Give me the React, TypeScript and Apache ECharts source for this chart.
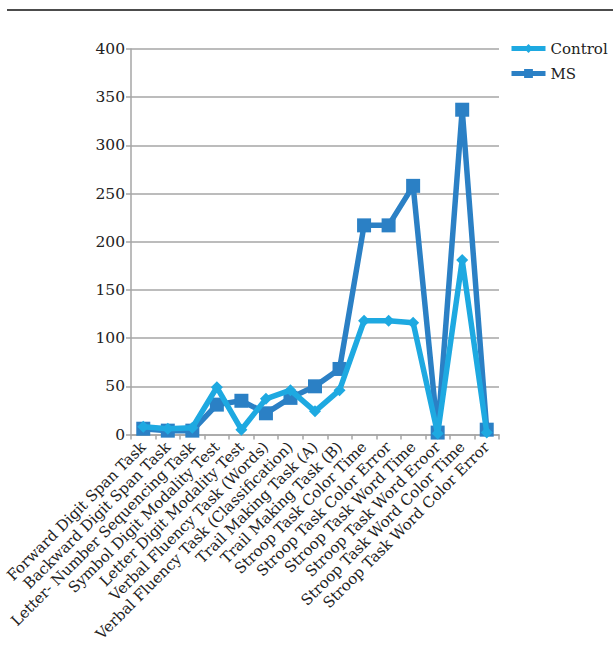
import React, { useEffect, useRef } from "react";
import * as echarts from "echarts";

const categories = [
  "Forward Digit Span Task",
  "Backward Digit Span Task",
  "Letter- Number Sequencing Task",
  "Symbol Digit Modality Test",
  "Letter Digit Modality Test",
  "Verbal Fluency Task (Words)",
  "Verbal Fluency Task (Classification)",
  "Trail Making Task (A)",
  "Trail Making Task (B)",
  "Stroop Task Color Time",
  "Stroop Task Color Error",
  "Stroop Task Word Time",
  "Stroop Task Word Eroor",
  "Stroop Task Word Color Time",
  "Stroop Task Word Color Error",
];

const controlValues = [8, 6, 7, 49, 5, 37, 46, 24, 46, 118, 118, 116, 1, 181, 2];
const msValues = [6, 4, 4, 31, 35, 22, 38, 50, 68, 217, 217, 258, 2, 337, 5];

const yMin = 0;
const yMax = 400;
const yInterval = 50;

const FONT = "DejaVu Serif";

export default function App() {
  const ref = useRef<HTMLDivElement>(null);
  useEffect(() => {
    if (!ref.current) return;
    const chart = echarts.init(ref.current, undefined, { renderer: "svg" });
    chart.setOption({
      animation: false,
      backgroundColor: "#ffffff",
      textStyle: { fontFamily: FONT },
      graphic: [
        {
          type: "line",
          shape: { x1: 7, y1: 10, x2: 613, y2: 10 },
          style: { stroke: "#111", lineWidth: 1.3 },
        },
      ],
      legend: {
        orient: "vertical",
        left: 509,
        top: 41,
        padding: 0,
        itemWidth: 34,
        itemHeight: 11,
        itemGap: 10,
        lineStyle: { width: 5 },
        textStyle: { fontFamily: FONT, fontSize: 15, color: "#222" },
        data: ["Control", "MS"],
      },
      grid: { left: 131, right: 114, top: 49, bottom: 214.5, containLabel: false },
      xAxis: {
        type: "category",
        data: categories,
        boundaryGap: true,
        axisLine: { lineStyle: { color: "#a6a6a6", width: 1.5 } },
        axisTick: { show: true, length: 5, lineStyle: { color: "#a6a6a6", width: 1.5 } },
        axisLabel: {
          interval: 0,
          rotate: 45,
          fontFamily: FONT,
          fontSize: 15,
          color: "#222",
          margin: 10,
        },
      },
      yAxis: {
        type: "value",
        min: yMin,
        max: yMax,
        interval: yInterval,
        axisLine: { show: true, lineStyle: { color: "#a6a6a6", width: 1.5 } },
        axisTick: { show: true, length: 5, lineStyle: { color: "#a6a6a6", width: 1.5 } },
        splitLine: { lineStyle: { color: "#a6a6a6", width: 1.5 } },
        axisLabel: { fontFamily: FONT, fontSize: 15.5, color: "#222", margin: 6 },
      },
      series: [
        {
          name: "Control",
          type: "line",
          data: controlValues,
          symbol: "diamond",
          symbolSize: 12,
          lineStyle: { color: "#1ea9e1", width: 5.5 },
          itemStyle: { color: "#1ea9e1" },
          z: 3,
        },
        {
          name: "MS",
          type: "line",
          data: msValues,
          symbol: "rect",
          symbolSize: 14,
          lineStyle: { color: "#2b80c5", width: 5.5 },
          itemStyle: { color: "#2b80c5" },
          z: 2,
        },
      ],
    });
    return () => chart.dispose();
  }, []);
  return <div ref={ref} style={{ width: 613, height: 649, position: "absolute", left: 0, top: 0 }} />;
}
